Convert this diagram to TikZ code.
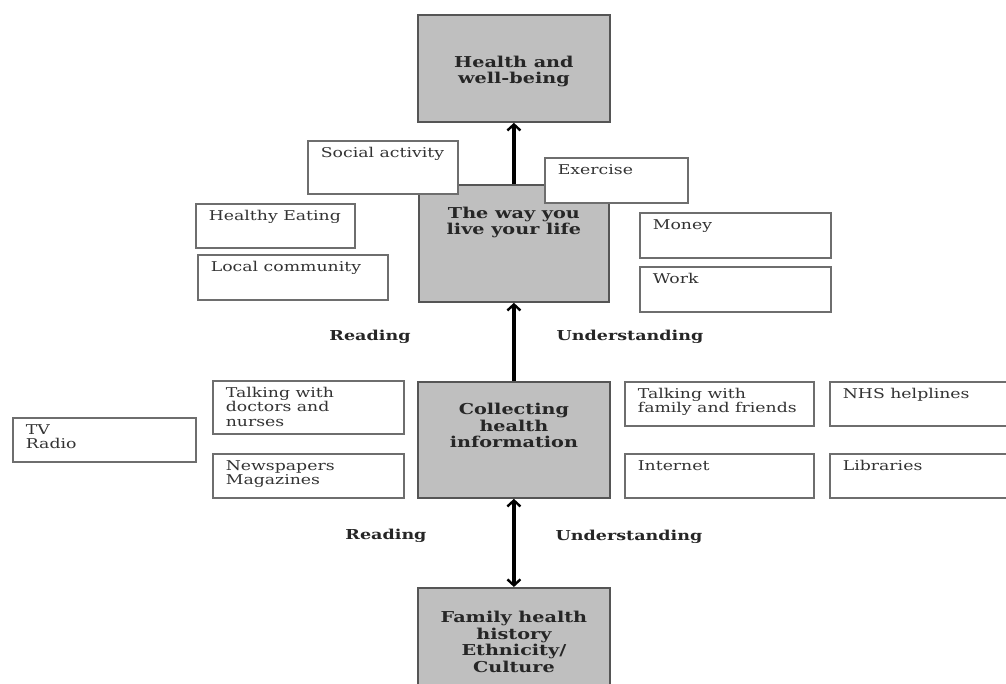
\documentclass[tikz,border=0pt]{standalone}
\usepackage{fontspec}
\usepackage{graphicx}
\setmainfont{DejaVu Serif}
\usetikzlibrary{arrows.meta}
\definecolor{boxgray}{HTML}{BFBFBF}
\definecolor{boxedge}{HTML}{6E6E6E}
\definecolor{mainedge}{HTML}{555555}
\definecolor{smalltext}{HTML}{333333}
\newcommand{\wide}[1]{\scalebox{1.28}[1]{#1}}
\newcommand{\toptext}[3]{\parbox[t][#2][t]{#1}{\vspace*{6pt}\wide{\begin{tabular}[t]{@{}l@{}}#3\end{tabular}}}}
\newcommand{\midtext}[4]{\parbox[t][#2][t]{#1}{\vspace*{#3}\centering\wide{\begin{tabular}[t]{@{}c@{}}#4\end{tabular}}}}
\tikzset{
  infobox/.style={draw=boxedge, line width=1.7pt, fill=white, anchor=north west,
    inner xsep=13pt, inner ysep=0pt, text=smalltext,
    font=\fontsize{13.5}{14.5}\selectfont},
  mainbox/.style={draw=mainedge, line width=1.8pt, fill=boxgray, anchor=north west,
    inner xsep=0pt, inner ysep=0pt, text=black!85,
    font=\fontsize{15}{16.5}\selectfont\bfseries},
  steplabel/.style={font=\fontsize{13.7}{15}\selectfont\bfseries, text=black!85},
  link/.style={draw=black, line width=3.4pt},
  barb/.style={-{Straight Barb[length=6pt,width=13pt,line width=2.4pt]}},
}
\begin{document}
\begin{tikzpicture}[x=1pt,y=-1pt]
\path[fill=white] (0,0) rectangle (1006,683);
\useasboundingbox (0,0) rectangle (1006,683);
% main column
\node[mainbox] (health) at (417,14) {\midtext{192pt}{107pt}{41pt}{Health and\\ well-being}};
\node[mainbox] (life) at (418,184) {\midtext{190pt}{117pt}{22pt}{The way you\\ live your life}};
\node[mainbox] (collect) at (417,381) {\midtext{192pt}{116pt}{21.5pt}{Collecting\\ health\\ information}};
\node[mainbox] (family) at (417,587) {\midtext{192pt}{130pt}{23.5pt}{Family health\\ history\\ Ethnicity/\\ Culture}};
% way of life
\node[infobox] (social) at (307,140) {\toptext{124pt}{53pt}{Social activity}};
\node[infobox] (exercise) at (544,157) {\toptext{117pt}{45pt}{Exercise}};
\node[infobox] (eating) at (195,203) {\toptext{133pt}{44pt}{Healthy Eating}};
\node[infobox] (community) at (197,254) {\toptext{164pt}{45pt}{Local community}};
\node[infobox] (money) at (639,212) {\toptext{165pt}{45pt}{Money}};
\node[infobox] (work) at (639,266) {\toptext{165pt}{45pt}{Work}};
% sources
\node[infobox] (doctors) at (212,380) {\toptext{165pt}{53pt}{Talking with\\ doctors and\\ nurses}};
\node[infobox] (papers) at (212,453) {\toptext{165pt}{44pt}{Newspapers\\ Magazines}};
\node[infobox] (tv) at (12,417) {\toptext{157pt}{44pt}{TV\\ Radio}};
\node[infobox] (friends) at (624,381) {\toptext{163pt}{44pt}{Talking with\\ family and friends}};
\node[infobox] (nhs) at (829,381) {\toptext{164pt}{44pt}{NHS helplines}};
\node[infobox] (internet) at (624,453) {\toptext{163pt}{44pt}{Internet}};
\node[infobox] (libraries) at (829,453) {\toptext{164pt}{44pt}{Libraries}};
% labels
\node[steplabel] (read1) at (370,337) {\wide{Reading}};
\node[steplabel] (under1) at (630,337) {\wide{Understanding}};
\node[steplabel] (read2) at (386,536) {\wide{Reading}};
\node[steplabel] (under2) at (629,537) {\wide{Understanding}};
% arrows
\draw[link,barb] (life.north) -- (health.south);
\draw[link,barb] (collect.north) -- (life.south);
\draw[link,{Straight Barb[length=6pt,width=13pt,line width=2.4pt]}-{Straight Barb[length=6pt,width=13pt,line width=2.4pt]}] (collect.south) -- (family.north);
\end{tikzpicture}
\end{document}
